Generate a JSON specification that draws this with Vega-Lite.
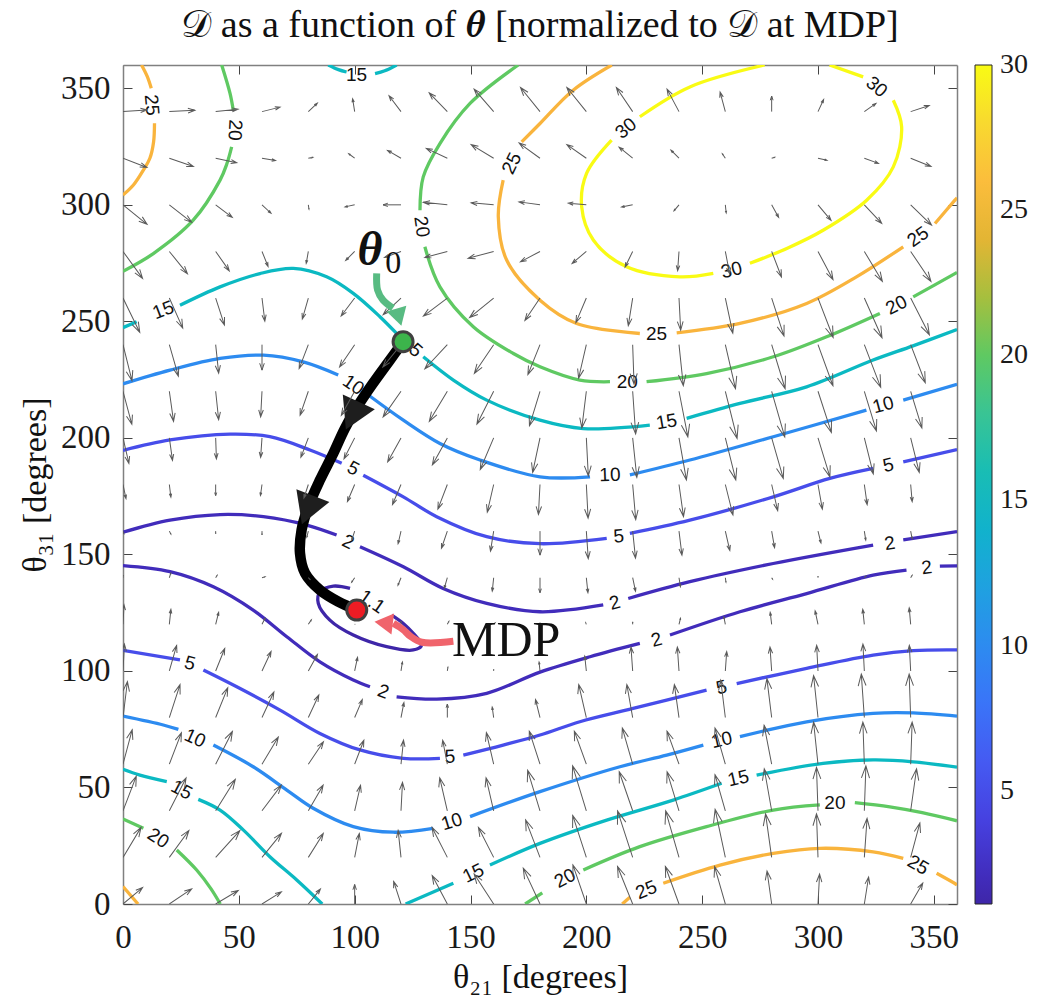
{
"$schema": "https://vega.github.io/schema/vega-lite/v6.json",
"width": 834,
"height": 839,
"autosize": {"type": "none"},
"padding": {"left": 123, "top": 65, "right": 106, "bottom": 97},
"background": "#ffffff",
"config": {"view": {"stroke": null}},
"title": {"text": "𝒟 as a function of 𝜽 [normalized to 𝒟 at MDP]", "font": "Liberation Serif", "fontSize": 38, "fontWeight": "normal", "color": "#111111", "offset": 20},
"datasets": {
"contours": [
{"l":30,"s":"30a","o":0,"x":305,"y":360},{"l":30,"s":"30a","o":1,"x":319.5,"y":354.9},
{"l":30,"s":"30b","o":0,"x":332.5,"y":344.9},{"l":30,"s":"30b","o":1,"x":336.1,"y":333.5},{"l":30,"s":"30b","o":2,"x":332.5,"y":316.3},{"l":30,"s":"30b","o":3,"x":321,"y":302},{"l":30,"s":"30b","o":4,"x":302.2,"y":289.1},{"l":30,"s":"30b","o":5,"x":287,"y":281.5},{"l":30,"s":"30b","o":6,"x":270.6,"y":274.9},
{"l":30,"s":"30c","o":0,"x":254.8,"y":270.6},{"l":30,"s":"30c","o":1,"x":240.4,"y":269.1},{"l":30,"s":"30c","o":2,"x":217.4,"y":273.4},{"l":30,"s":"30c","o":3,"x":203,"y":284.9},{"l":30,"s":"30c","o":4,"x":198,"y":299.1},{"l":30,"s":"30c","o":5,"x":200.1,"y":313.5},{"l":30,"s":"30c","o":6,"x":210.9,"y":327.8},
{"l":30,"s":"30d","o":0,"x":223.1,"y":337.8},{"l":30,"s":"30d","o":1,"x":244.7,"y":350.6},{"l":30,"s":"30d","o":2,"x":277,"y":360},
{"l":25,"s":"25a","o":0,"x":8,"y":360},{"l":25,"s":"25a","o":1,"x":10.5,"y":355},{"l":25,"s":"25a","o":2,"x":12.2,"y":350},
{"l":25,"s":"25b","o":0,"x":13.6,"y":335},{"l":25,"s":"25b","o":1,"x":13.2,"y":327},{"l":25,"s":"25b","o":2,"x":11.6,"y":320},{"l":25,"s":"25b","o":3,"x":8.8,"y":314.9},{"l":25,"s":"25b","o":4,"x":4.5,"y":308.5},{"l":25,"s":"25b","o":5,"x":0,"y":304.2},
{"l":25,"s":"25c","o":0,"x":211,"y":360},{"l":25,"s":"25c","o":1,"x":194.3,"y":349.2},{"l":25,"s":"25c","o":2,"x":180,"y":334.9},{"l":25,"s":"25c","o":3,"x":172.1,"y":327},
{"l":25,"s":"25d","o":0,"x":164.1,"y":310.6},{"l":25,"s":"25d","o":1,"x":162,"y":294.9},{"l":25,"s":"25d","o":2,"x":165.6,"y":276.3},{"l":25,"s":"25d","o":3,"x":180,"y":259.1},{"l":25,"s":"25d","o":4,"x":195.8,"y":249.1},{"l":25,"s":"25d","o":5,"x":223.1,"y":244.8},
{"l":25,"s":"25e","o":0,"x":239,"y":245.1},{"l":25,"s":"25e","o":1,"x":266.3,"y":249.1},{"l":25,"s":"25e","o":2,"x":295.1,"y":257.7},{"l":25,"s":"25e","o":3,"x":316.6,"y":269.1},{"l":25,"s":"25e","o":4,"x":336.8,"y":282},
{"l":25,"s":"25f","o":0,"x":350.5,"y":292},{"l":25,"s":"25f","o":1,"x":359.1,"y":302},{"l":25,"s":"25f","o":2,"x":360,"y":303},
{"l":25,"s":"25g","o":0,"x":215.5,"y":0},{"l":25,"s":"25g","o":1,"x":218.8,"y":2.9},
{"l":25,"s":"25h","o":0,"x":233.2,"y":8.9},{"l":25,"s":"25h","o":1,"x":257.7,"y":16.7},{"l":25,"s":"25h","o":2,"x":280.7,"y":21.7},{"l":25,"s":"25h","o":3,"x":300.8,"y":23.9},{"l":25,"s":"25h","o":4,"x":323.8,"y":22.4},{"l":25,"s":"25h","o":5,"x":336.8,"y":19.6},
{"l":25,"s":"25i","o":0,"x":351.2,"y":13.2},{"l":25,"s":"25i","o":1,"x":359.1,"y":8.8},{"l":25,"s":"25i","o":2,"x":360,"y":8.2},
{"l":25,"s":"25j","o":0,"x":0,"y":7.5},{"l":25,"s":"25j","o":1,"x":6.5,"y":0},
{"l":20,"s":"20a","o":0,"x":42.6,"y":360},{"l":20,"s":"20a","o":1,"x":46.2,"y":347.8},{"l":20,"s":"20a","o":2,"x":47.6,"y":340.6},
{"l":20,"s":"20b","o":0,"x":46.9,"y":324.9},{"l":20,"s":"20b","o":1,"x":44.8,"y":317.5},{"l":20,"s":"20b","o":2,"x":41.9,"y":310.6},{"l":20,"s":"20b","o":3,"x":30.3,"y":293.4},{"l":20,"s":"20b","o":4,"x":13.1,"y":279.1},{"l":20,"s":"20b","o":5,"x":0,"y":271.5},
{"l":20,"s":"20c","o":0,"x":170.6,"y":360},{"l":20,"s":"20c","o":1,"x":149.8,"y":343.5},{"l":20,"s":"20c","o":2,"x":136.8,"y":326.3},{"l":20,"s":"20c","o":3,"x":129.6,"y":312},{"l":20,"s":"20c","o":4,"x":128.2,"y":297.7},
{"l":20,"s":"20d","o":0,"x":130.3,"y":282},{"l":20,"s":"20d","o":1,"x":136.8,"y":264.8},{"l":20,"s":"20d","o":2,"x":151.2,"y":247.7},{"l":20,"s":"20d","o":3,"x":168.5,"y":236.2},{"l":20,"s":"20d","o":4,"x":180,"y":230.5},{"l":20,"s":"20d","o":5,"x":197.2,"y":224.8},{"l":20,"s":"20d","o":6,"x":210.2,"y":224.1},
{"l":20,"s":"20e","o":0,"x":226,"y":224.1},{"l":20,"s":"20e","o":1,"x":251.9,"y":227.6},{"l":20,"s":"20e","o":2,"x":280.7,"y":234.8},{"l":20,"s":"20e","o":3,"x":304,"y":243.5},{"l":20,"s":"20e","o":4,"x":326.7,"y":253.4},
{"l":20,"s":"20f","o":0,"x":341.1,"y":260.5},{"l":20,"s":"20f","o":1,"x":359.1,"y":270.5},{"l":20,"s":"20f","o":2,"x":360,"y":271},
{"l":20,"s":"20g","o":0,"x":173.6,"y":0},{"l":20,"s":"20g","o":1,"x":181,"y":4.8},
{"l":20,"s":"20h","o":0,"x":198.7,"y":14.6},{"l":20,"s":"20h","o":1,"x":223.1,"y":24.6},{"l":20,"s":"20h","o":2,"x":251.9,"y":33.2},{"l":20,"s":"20h","o":3,"x":280.7,"y":40.3},{"l":20,"s":"20h","o":4,"x":300.8,"y":42.5},
{"l":20,"s":"20i","o":0,"x":315.9,"y":43.5},{"l":20,"s":"20i","o":1,"x":331,"y":41.7},{"l":20,"s":"20i","o":2,"x":345,"y":39.2},{"l":20,"s":"20i","o":3,"x":360,"y":35.7},
{"l":20,"s":"20j","o":0,"x":0,"y":36.5},{"l":20,"s":"20j","o":1,"x":8.8,"y":32.5},
{"l":20,"s":"20k","o":0,"x":23.2,"y":23.2},{"l":20,"s":"20k","o":1,"x":31.8,"y":14.6},{"l":20,"s":"20k","o":2,"x":38,"y":6.5},{"l":20,"s":"20k","o":3,"x":42,"y":0},
{"l":15,"s":"15a","o":0,"x":88.6,"y":360},{"l":15,"s":"15a","o":1,"x":93,"y":358},{"l":15,"s":"15a","o":2,"x":96.5,"y":357},
{"l":15,"s":"15b","o":0,"x":108.8,"y":356.3},{"l":15,"s":"15b","o":1,"x":113,"y":357.5},{"l":15,"s":"15b","o":2,"x":118.1,"y":360},
{"l":15,"s":"15c","o":0,"x":0,"y":247.3},{"l":15,"s":"15c","o":1,"x":5.9,"y":249.8},
{"l":15,"s":"15d","o":0,"x":24.6,"y":256.9},{"l":15,"s":"15d","o":1,"x":41.9,"y":264.8},{"l":15,"s":"15d","o":2,"x":59.1,"y":270.5},{"l":15,"s":"15d","o":3,"x":73.5,"y":272.7},{"l":15,"s":"15d","o":4,"x":87.9,"y":269.1},{"l":15,"s":"15d","o":5,"x":99.4,"y":262},{"l":15,"s":"15d","o":6,"x":110.9,"y":252},{"l":15,"s":"15d","o":7,"x":118.1,"y":244.8},
{"l":15,"s":"15e","o":0,"x":129.6,"y":234.8},{"l":15,"s":"15e","o":1,"x":142.6,"y":224.8},{"l":15,"s":"15e","o":2,"x":157,"y":216.2},{"l":15,"s":"15e","o":3,"x":180,"y":207.6},{"l":15,"s":"15e","o":4,"x":198.7,"y":204},{"l":15,"s":"15e","o":5,"x":227.4,"y":205.5},
{"l":15,"s":"15f","o":0,"x":243.3,"y":208.4},{"l":15,"s":"15f","o":1,"x":266.3,"y":214.8},{"l":15,"s":"15f","o":2,"x":295.1,"y":221.9},{"l":15,"s":"15f","o":3,"x":323.8,"y":233.4},{"l":15,"s":"15f","o":4,"x":341,"y":239.5},{"l":15,"s":"15f","o":5,"x":360,"y":246.5},
{"l":15,"s":"15g","o":0,"x":0,"y":57.8},{"l":15,"s":"15g","o":1,"x":7.3,"y":55.3},{"l":15,"s":"15g","o":2,"x":18.9,"y":52.5},
{"l":15,"s":"15h","o":0,"x":32.5,"y":44.9},{"l":15,"s":"15h","o":1,"x":41.9,"y":40.3},{"l":15,"s":"15h","o":2,"x":52,"y":31.7},{"l":15,"s":"15h","o":3,"x":63.4,"y":20.3},{"l":15,"s":"15h","o":4,"x":75,"y":10.3},{"l":15,"s":"15h","o":5,"x":86,"y":0},
{"l":15,"s":"15i","o":0,"x":122,"y":0},{"l":15,"s":"15i","o":1,"x":142.6,"y":8.9},
{"l":15,"s":"15j","o":0,"x":158.4,"y":16.7},{"l":15,"s":"15j","o":1,"x":180,"y":26},{"l":15,"s":"15j","o":2,"x":208.8,"y":36},{"l":15,"s":"15j","o":3,"x":237.5,"y":44.6},{"l":15,"s":"15j","o":4,"x":258.4,"y":51.8},
{"l":15,"s":"15k","o":0,"x":273.5,"y":55.3},{"l":15,"s":"15k","o":1,"x":302.2,"y":60.3},{"l":15,"s":"15k","o":2,"x":323.8,"y":61.8},{"l":15,"s":"15k","o":3,"x":341.1,"y":61},{"l":15,"s":"15k","o":4,"x":360,"y":58.7},
{"l":10,"s":"10a","o":0,"x":0,"y":223.2},{"l":10,"s":"10a","o":1,"x":20.3,"y":229.1},{"l":10,"s":"10a","o":2,"x":41.9,"y":234.1},{"l":10,"s":"10a","o":3,"x":60.6,"y":235.5},{"l":10,"s":"10a","o":4,"x":77.8,"y":232.6},{"l":10,"s":"10a","o":5,"x":92.9,"y":227},
{"l":10,"s":"10b","o":0,"x":105.9,"y":218.4},{"l":10,"s":"10b","o":1,"x":121,"y":207.6},{"l":10,"s":"10b","o":2,"x":136.8,"y":197.6},{"l":10,"s":"10b","o":3,"x":154.1,"y":190.5},{"l":10,"s":"10b","o":4,"x":180,"y":183.3},{"l":10,"s":"10b","o":5,"x":201.6,"y":183.3},
{"l":10,"s":"10c","o":0,"x":218.8,"y":184.1},{"l":10,"s":"10c","o":1,"x":244.7,"y":190.5},{"l":10,"s":"10c","o":2,"x":280.7,"y":200.5},{"l":10,"s":"10c","o":3,"x":320.9,"y":211.9},
{"l":10,"s":"10d","o":0,"x":336.8,"y":216.2},{"l":10,"s":"10d","o":1,"x":360,"y":223},
{"l":10,"s":"10e","o":0,"x":0,"y":80.6},{"l":10,"s":"10e","o":1,"x":17.4,"y":76.8},{"l":10,"s":"10e","o":2,"x":23.9,"y":74.9},
{"l":10,"s":"10f","o":0,"x":39,"y":68.2},{"l":10,"s":"10f","o":1,"x":56.2,"y":58.9},{"l":10,"s":"10f","o":2,"x":70.7,"y":48.9},{"l":10,"s":"10f","o":3,"x":82.1,"y":41.1},{"l":10,"s":"10f","o":4,"x":99.4,"y":33.2},{"l":10,"s":"10f","o":5,"x":116.7,"y":30.8},{"l":10,"s":"10f","o":6,"x":133.9,"y":32.5},
{"l":10,"s":"10g","o":0,"x":149.8,"y":37.5},{"l":10,"s":"10g","o":1,"x":180,"y":48.2},{"l":10,"s":"10g","o":2,"x":214.5,"y":58.9},{"l":10,"s":"10g","o":3,"x":234.7,"y":63.9},{"l":10,"s":"10g","o":4,"x":250.5,"y":68.2},
{"l":10,"s":"10h","o":0,"x":266.3,"y":71.8},{"l":10,"s":"10h","o":1,"x":295.1,"y":78.2},{"l":10,"s":"10h","o":2,"x":323.8,"y":81.8},{"l":10,"s":"10h","o":3,"x":341.1,"y":82},{"l":10,"s":"10h","o":4,"x":360,"y":80.6},
{"l":5,"s":"5a","o":0,"x":0,"y":194.6},{"l":5,"s":"5a","o":1,"x":20.3,"y":199.1},{"l":5,"s":"5a","o":2,"x":46.2,"y":201.6},{"l":5,"s":"5a","o":3,"x":63.4,"y":200.5},{"l":5,"s":"5a","o":4,"x":80.7,"y":194.8},{"l":5,"s":"5a","o":5,"x":94.4,"y":189.1},
{"l":5,"s":"5b","o":0,"x":103.7,"y":184},{"l":5,"s":"5b","o":1,"x":121,"y":174.7},{"l":5,"s":"5b","o":2,"x":135.4,"y":166.2},{"l":5,"s":"5b","o":3,"x":157,"y":157.6},{"l":5,"s":"5b","o":4,"x":180,"y":154.6},{"l":5,"s":"5b","o":5,"x":208.8,"y":156.9},
{"l":5,"s":"5c","o":0,"x":218.8,"y":159},{"l":5,"s":"5c","o":1,"x":244.7,"y":164.7},{"l":5,"s":"5c","o":2,"x":280.7,"y":174.7},{"l":5,"s":"5c","o":3,"x":305.1,"y":182.6},{"l":5,"s":"5c","o":4,"x":323.8,"y":186.9},
{"l":5,"s":"5d","o":0,"x":336.8,"y":189.7},{"l":5,"s":"5d","o":1,"x":360,"y":195},
{"l":5,"s":"5e","o":0,"x":0,"y":108.8},{"l":5,"s":"5e","o":1,"x":24.6,"y":104.7},
{"l":5,"s":"5f","o":0,"x":34.7,"y":100.4},{"l":5,"s":"5f","o":1,"x":49.1,"y":93.2},{"l":5,"s":"5f","o":2,"x":67.8,"y":83.2},{"l":5,"s":"5f","o":3,"x":85,"y":73.2},{"l":5,"s":"5f","o":4,"x":102.3,"y":66.1},{"l":5,"s":"5f","o":5,"x":121,"y":62.5},{"l":5,"s":"5f","o":6,"x":136.8,"y":62.5},
{"l":5,"s":"5g","o":0,"x":146.9,"y":63.9},{"l":5,"s":"5g","o":1,"x":164.1,"y":68.2},{"l":5,"s":"5g","o":2,"x":180,"y":72.5},{"l":5,"s":"5g","o":3,"x":197.2,"y":78.2},{"l":5,"s":"5g","o":4,"x":220.2,"y":83.9},{"l":5,"s":"5g","o":5,"x":251.9,"y":91.8},
{"l":5,"s":"5h","o":0,"x":264.9,"y":94.6},{"l":5,"s":"5h","o":1,"x":295.1,"y":101.1},{"l":5,"s":"5h","o":2,"x":323.8,"y":106.8},{"l":5,"s":"5h","o":3,"x":341.1,"y":108.7},{"l":5,"s":"5h","o":4,"x":360,"y":109},
{"l":2,"s":"2a","o":0,"x":0,"y":159.5},{"l":2,"s":"2a","o":1,"x":20.3,"y":164.7},{"l":2,"s":"2a","o":2,"x":41.9,"y":167.1},{"l":2,"s":"2a","o":3,"x":60.6,"y":166.2},{"l":2,"s":"2a","o":4,"x":79.3,"y":162.6},{"l":2,"s":"2a","o":5,"x":92.2,"y":158.3},
{"l":2,"s":"2b","o":0,"x":102.3,"y":153.3},{"l":2,"s":"2b","o":1,"x":121,"y":144.7},{"l":2,"s":"2b","o":2,"x":138.2,"y":135.4},{"l":2,"s":"2b","o":3,"x":157,"y":129},{"l":2,"s":"2b","o":4,"x":180,"y":125.4},{"l":2,"s":"2b","o":5,"x":207.3,"y":128.3},
{"l":2,"s":"2c","o":0,"x":218.1,"y":131.1},{"l":2,"s":"2c","o":1,"x":244.7,"y":138.3},{"l":2,"s":"2c","o":2,"x":280.7,"y":146.1},{"l":2,"s":"2c","o":3,"x":323.8,"y":154},
{"l":2,"s":"2d","o":0,"x":336.8,"y":156.2},{"l":2,"s":"2d","o":1,"x":360,"y":159.8},
{"l":2,"s":"2e","o":0,"x":0,"y":145.2},{"l":2,"s":"2e","o":1,"x":20.3,"y":142.6},{"l":2,"s":"2e","o":2,"x":39,"y":136.1},{"l":2,"s":"2e","o":3,"x":56.2,"y":126.1},{"l":2,"s":"2e","o":4,"x":70.7,"y":114.7},{"l":2,"s":"2e","o":5,"x":85,"y":103.9},{"l":2,"s":"2e","o":6,"x":99.4,"y":96.1},{"l":2,"s":"2e","o":7,"x":106.6,"y":93.2},
{"l":2,"s":"2f","o":0,"x":118.1,"y":88.9},{"l":2,"s":"2f","o":1,"x":135.4,"y":87.9},{"l":2,"s":"2f","o":2,"x":157,"y":90.4},{"l":2,"s":"2f","o":3,"x":180,"y":99.5},{"l":2,"s":"2f","o":4,"x":201.6,"y":106.1},{"l":2,"s":"2f","o":5,"x":223.1,"y":111.8},
{"l":2,"s":"2g","o":0,"x":236.1,"y":115.4},{"l":2,"s":"2g","o":1,"x":266.3,"y":125.4},{"l":2,"s":"2g","o":2,"x":295.1,"y":133.2},{"l":2,"s":"2g","o":3,"x":323.8,"y":141.1},{"l":2,"s":"2g","o":4,"x":338.2,"y":143.3},
{"l":2,"s":"2h","o":0,"x":352.6,"y":145},{"l":2,"s":"2h","o":1,"x":360,"y":145.1},
{"l":1.1,"s":"1a","o":0,"x":98,"y":135.4},{"l":1.1,"s":"1a","o":1,"x":90.8,"y":136.4},{"l":1.1,"s":"1a","o":2,"x":85,"y":134},{"l":1.1,"s":"1a","o":3,"x":84.3,"y":129},{"l":1.1,"s":"1a","o":4,"x":89.3,"y":121.8},{"l":1.1,"s":"1a","o":5,"x":99.4,"y":115.4},{"l":1.1,"s":"1a","o":6,"x":113.8,"y":110.4},{"l":1.1,"s":"1a","o":7,"x":125.3,"y":109},{"l":1.1,"s":"1a","o":8,"x":128.9,"y":111.1},{"l":1.1,"s":"1a","o":9,"x":125.3,"y":116.1},{"l":1.1,"s":"1a","o":10,"x":121,"y":120.4},{"l":1.1,"s":"1a","o":11,"x":116,"y":124}
],
"labels": [
{"x":325.3,"y":350.6,"t":"30","a":40},{"x":262.7,"y":272,"t":"30","a":-14},{"x":217.1,"y":332.8,"t":"30","a":-40},
{"x":12.4,"y":342.8,"t":"25","a":85},{"x":167.8,"y":317.8,"t":"25","a":-64},{"x":230.3,"y":244.5,"t":"25","a":0},{"x":343.2,"y":286.3,"t":"25","a":-35},{"x":225.9,"y":6,"t":"25","a":-22},{"x":343.2,"y":16.7,"t":"25","a":30},
{"x":48.3,"y":332.1,"t":"20","a":93},{"x":128.9,"y":290.6,"t":"20","a":82},{"x":217.7,"y":224.1,"t":"20","a":0},{"x":333.9,"y":257,"t":"20","a":-27},{"x":190.8,"y":11,"t":"20","a":-28},{"x":307.3,"y":43.2,"t":"20","a":0},{"x":15.2,"y":28.2,"t":"20","a":33},
{"x":100.8,"y":355.6,"t":"15","a":0},{"x":17.4,"y":254.8,"t":"15","a":-21},{"x":124.6,"y":239.1,"t":"15","a":42},{"x":234.6,"y":206.9,"t":"15","a":-10},{"x":25.3,"y":48.9,"t":"15","a":28},{"x":151.2,"y":13.2,"t":"15","a":-26},{"x":265.6,"y":53.9,"t":"15","a":-13},
{"x":99.4,"y":222.7,"t":"10","a":34},{"x":210.2,"y":184.1,"t":"10","a":-2},{"x":328.1,"y":214.1,"t":"10","a":-15},{"x":31.1,"y":71.1,"t":"10","a":24},{"x":141.9,"y":35.3,"t":"10","a":-17},{"x":258.4,"y":70.4,"t":"10","a":-13},
{"x":99.4,"y":186.9,"t":"5","a":28},{"x":214,"y":157.8,"t":"5","a":-5},{"x":330.3,"y":188.3,"t":"5","a":-13},{"x":28.9,"y":103.3,"t":"5","a":15},{"x":141.1,"y":63.2,"t":"5","a":-3},{"x":258.4,"y":92.9,"t":"5","a":-13},
{"x":97.2,"y":155.4,"t":"2","a":26},{"x":212.3,"y":129.2,"t":"2","a":-15},{"x":331,"y":154.7,"t":"2","a":-9},{"x":112.3,"y":91.1,"t":"2","a":20},{"x":230.3,"y":113.3,"t":"2","a":-15},{"x":346.9,"y":144.3,"t":"2","a":-7},
{"x":107.5,"y":129.7,"t":"1.1","a":35}
],
"quiver": [
{"x":0,"y":340,"a":-4,"m":26.7},{"x":20,"y":340,"a":-3,"m":28.4},{"x":40,"y":340,"a":-6,"m":25.1},{"x":60,"y":340,"a":-14,"m":20.6},{"x":80,"y":340,"a":-43,"m":13.7},{"x":100,"y":340,"a":-99,"m":14.5},{"x":120,"y":340,"a":-127,"m":22.1},{"x":140,"y":340,"a":-134,"m":29},{"x":160,"y":340,"a":-131,"m":33.1},{"x":180,"y":340,"a":-129,"m":34.4},{"x":200,"y":340,"a":-129,"m":34.4},{"x":220,"y":340,"a":-124,"m":32.4},{"x":240,"y":340,"a":-118,"m":28.3},{"x":260,"y":340,"a":-105,"m":22.5},{"x":280,"y":340,"a":-90,"m":17.3},{"x":300,"y":340,"a":-65,"m":14.8},{"x":320,"y":340,"a":-35,"m":15.8},{"x":340,"y":340,"a":-18,"m":21.7},
{"x":0,"y":320,"a":21,"m":28.5},{"x":20,"y":320,"a":19,"m":28.3},{"x":40,"y":320,"a":12,"m":23.9},{"x":60,"y":320,"a":10,"m":15.2},{"x":80,"y":320,"a":-11,"m":5.1},{"x":100,"y":320,"a":-143,"m":8.3},{"x":120,"y":320,"a":-150,"m":17.3},{"x":140,"y":320,"a":-155,"m":25.8},{"x":160,"y":320,"a":-149,"m":29.2},{"x":180,"y":320,"a":-144,"m":28.7},{"x":200,"y":320,"a":-145,"m":26.4},{"x":220,"y":320,"a":-141,"m":19.4},{"x":240,"y":320,"a":-135,"m":12.7},{"x":260,"y":320,"a":-124,"m":6},{"x":280,"y":320,"a":-17,"m":3.5},{"x":300,"y":320,"a":13,"m":10.3},{"x":320,"y":320,"a":20,"m":16.7},{"x":340,"y":320,"a":22,"m":24.4},
{"x":0,"y":300,"a":39,"m":34.4},{"x":20,"y":300,"a":38,"m":31.6},{"x":40,"y":300,"a":37,"m":23.1},{"x":60,"y":300,"a":43,"m":13.7},{"x":80,"y":300,"a":82,"m":5},{"x":100,"y":300,"a":168,"m":10.9},{"x":120,"y":300,"a":180,"m":20},{"x":140,"y":300,"a":-174,"m":26.8},{"x":160,"y":300,"a":-175,"m":25.1},{"x":180,"y":300,"a":-172,"m":23.6},{"x":200,"y":300,"a":-175,"m":20.1},{"x":220,"y":300,"a":169,"m":12.6},{"x":240,"y":300,"a":130,"m":8.7},{"x":260,"y":300,"a":84,"m":9.1},{"x":280,"y":300,"a":61,"m":16},{"x":300,"y":300,"a":50,"m":22.5},{"x":320,"y":300,"a":47,"m":28.3},{"x":340,"y":300,"a":44,"m":32.3},
{"x":0,"y":280,"a":54,"m":37},{"x":20,"y":280,"a":51,"m":32},{"x":40,"y":280,"a":55,"m":26.4},{"x":60,"y":280,"a":68,"m":18},{"x":80,"y":280,"a":100,"m":13.5},{"x":100,"y":280,"a":135,"m":14.1},{"x":120,"y":280,"a":160,"m":19.5},{"x":140,"y":280,"a":165,"m":25.9},{"x":160,"y":280,"a":165,"m":29.4},{"x":180,"y":280,"a":152,"m":24.6},{"x":200,"y":280,"a":140,"m":20.6},{"x":220,"y":280,"a":116,"m":19.2},{"x":240,"y":280,"a":94,"m":21.4},{"x":260,"y":280,"a":79,"m":25.5},{"x":280,"y":280,"a":69,"m":30.4},{"x":300,"y":280,"a":62,"m":35.5},{"x":320,"y":280,"a":59,"m":38.9},{"x":340,"y":280,"a":56,"m":40.3},
{"x":0,"y":260,"a":64,"m":42.5},{"x":20,"y":260,"a":66,"m":36.6},{"x":40,"y":260,"a":72,"m":31.6},{"x":60,"y":260,"a":83,"m":25.9},{"x":80,"y":260,"a":106,"m":24.3},{"x":100,"y":260,"a":127,"m":25},{"x":120,"y":260,"a":137,"m":27.1},{"x":140,"y":260,"a":143,"m":33.3},{"x":160,"y":260,"a":141,"m":34.4},{"x":180,"y":260,"a":124,"m":30},{"x":200,"y":260,"a":113,"m":29.7},{"x":220,"y":260,"a":99,"m":31.1},{"x":240,"y":260,"a":87,"m":35.7},{"x":260,"y":260,"a":78,"m":39.9},{"x":280,"y":260,"a":72,"m":44.4},{"x":300,"y":260,"a":69,"m":47},{"x":320,"y":260,"a":66,"m":48.3},{"x":340,"y":260,"a":63,"m":45.8},
{"x":0,"y":240,"a":76,"m":41.2},{"x":20,"y":240,"a":74,"m":36.4},{"x":40,"y":240,"a":84,"m":31.8},{"x":60,"y":240,"a":90,"m":28.3},{"x":80,"y":240,"a":111,"m":28.5},{"x":100,"y":240,"a":124,"m":30},{"x":120,"y":240,"a":129,"m":32},{"x":140,"y":240,"a":133,"m":36.6},{"x":160,"y":240,"a":124,"m":38.4},{"x":180,"y":240,"a":112,"m":35.9},{"x":200,"y":240,"a":103,"m":38.3},{"x":220,"y":240,"a":88,"m":44},{"x":240,"y":240,"a":84,"m":45.9},{"x":260,"y":240,"a":77,"m":50.2},{"x":280,"y":240,"a":73,"m":51.2},{"x":300,"y":240,"a":70,"m":48.6},{"x":320,"y":240,"a":69,"m":50.8},{"x":340,"y":240,"a":69,"m":45.3},
{"x":0,"y":220,"a":75,"m":38},{"x":20,"y":220,"a":82,"m":33.7},{"x":40,"y":220,"a":84,"m":31.8},{"x":60,"y":220,"a":93,"m":28.4},{"x":80,"y":220,"a":109,"m":28.1},{"x":100,"y":220,"a":119,"m":30.6},{"x":120,"y":220,"a":125,"m":34.7},{"x":140,"y":220,"a":121,"m":38.9},{"x":160,"y":220,"a":117,"m":41},{"x":180,"y":220,"a":107,"m":40.1},{"x":200,"y":220,"a":97,"m":41},{"x":220,"y":220,"a":86,"m":47.5},{"x":240,"y":220,"a":79,"m":51.6},{"x":260,"y":220,"a":76,"m":54},{"x":280,"y":220,"a":74,"m":52.8},{"x":300,"y":220,"a":72,"m":48.1},{"x":320,"y":220,"a":73,"m":46},{"x":340,"y":220,"a":73,"m":42.6},
{"x":0,"y":200,"a":77,"m":29.1},{"x":20,"y":200,"a":82,"m":25.2},{"x":40,"y":200,"a":88,"m":23.4},{"x":60,"y":200,"a":94,"m":21.7},{"x":80,"y":200,"a":111,"m":23.2},{"x":100,"y":200,"a":117,"m":26.1},{"x":120,"y":200,"a":119,"m":30.6},{"x":140,"y":200,"a":119,"m":34.3},{"x":160,"y":200,"a":113,"m":38.1},{"x":180,"y":200,"a":102,"m":39.2},{"x":200,"y":200,"a":87,"m":42.4},{"x":220,"y":200,"a":84,"m":44.3},{"x":240,"y":200,"a":80,"m":47.4},{"x":260,"y":200,"a":76,"m":48.1},{"x":280,"y":200,"a":74,"m":46.9},{"x":300,"y":200,"a":73,"m":45.3},{"x":320,"y":200,"a":76,"m":41.2},{"x":340,"y":200,"a":76,"m":39.5},
{"x":0,"y":180,"a":78,"m":16},{"x":20,"y":180,"a":83,"m":14.1},{"x":40,"y":180,"a":90,"m":12.3},{"x":60,"y":180,"a":98,"m":12.4},{"x":80,"y":180,"a":108,"m":15.8},{"x":100,"y":180,"a":113,"m":20.6},{"x":120,"y":180,"a":113,"m":24.2},{"x":140,"y":180,"a":111,"m":29.3},{"x":160,"y":180,"a":103,"m":31.5},{"x":180,"y":180,"a":93,"m":33.4},{"x":200,"y":180,"a":87,"m":37.4},{"x":220,"y":180,"a":85,"m":39.1},{"x":240,"y":180,"a":82,"m":36},{"x":260,"y":180,"a":76,"m":35},{"x":280,"y":180,"a":77,"m":29.8},{"x":300,"y":180,"a":80,"m":27.8},{"x":320,"y":180,"a":82,"m":22.6},{"x":340,"y":180,"a":85,"m":19.1},
{"x":0,"y":160,"a":69,"m":2.8},{"x":20,"y":160,"a":63,"m":3.7},{"x":40,"y":160,"a":90,"m":2.7},{"x":60,"y":160,"a":90,"m":4},{"x":80,"y":160,"a":104,"m":6.9},{"x":100,"y":160,"a":108,"m":10.5},{"x":120,"y":160,"a":103,"m":14.4},{"x":140,"y":160,"a":109,"m":20.1},{"x":160,"y":160,"a":99,"m":22.6},{"x":180,"y":160,"a":90,"m":26.7},{"x":200,"y":160,"a":86,"m":30.8},{"x":220,"y":160,"a":84,"m":30.2},{"x":240,"y":160,"a":83,"m":26.9},{"x":260,"y":160,"a":77,"m":22.2},{"x":280,"y":160,"a":80,"m":18.6},{"x":300,"y":160,"a":76,"m":13.7},{"x":320,"y":160,"a":81,"m":10.1},{"x":340,"y":160,"a":79,"m":8.5},
{"x":0,"y":140,"a":-90,"m":2.7},{"x":20,"y":140,"a":-72,"m":5.3},{"x":40,"y":140,"a":-58,"m":3.1},{"x":60,"y":140,"a":-17,"m":3.5},{"x":80,"y":140,"a":45,"m":2.4},{"x":100,"y":140,"a":124,"m":6},{"x":120,"y":140,"a":112,"m":9},{"x":140,"y":140,"a":106,"m":12.1},{"x":160,"y":140,"a":96,"m":15.1},{"x":180,"y":140,"a":90,"m":16.7},{"x":200,"y":140,"a":84,"m":16.8},{"x":220,"y":140,"a":78,"m":15.4},{"x":240,"y":140,"a":81,"m":10.1},{"x":260,"y":140,"a":82,"m":5},{"x":280,"y":140,"a":59,"m":1.9},{"x":300,"y":140,"a":-90,"m":1.7},{"x":320,"y":140,"a":-45,"m":2.4},{"x":340,"y":140,"a":-58,"m":3.1},
{"x":0,"y":120,"a":-87,"m":21.7},{"x":20,"y":120,"a":-84,"m":16.7},{"x":40,"y":120,"a":-76,"m":13.7},{"x":60,"y":120,"a":-63,"m":7.5},{"x":80,"y":120,"a":-56,"m":6},{"x":100,"y":120,"a":0,"m":0.5},{"x":120,"y":120,"a":-90,"m":3.3},{"x":140,"y":120,"a":-63,"m":3.7},{"x":160,"y":120,"a":-45,"m":2.4},{"x":180,"y":120,"a":-90,"m":1.7},{"x":200,"y":120,"a":-112,"m":1.8},{"x":220,"y":120,"a":-90,"m":2.7},{"x":240,"y":120,"a":-76,"m":6.9},{"x":260,"y":120,"a":-101,"m":8.5},{"x":280,"y":120,"a":-97,"m":13.4},{"x":300,"y":120,"a":-102,"m":15.4},{"x":320,"y":120,"a":-96,"m":16.7},{"x":340,"y":120,"a":-95,"m":18.4},
{"x":0,"y":100,"a":-87,"m":30},{"x":20,"y":100,"a":-74,"m":29.5},{"x":40,"y":100,"a":-68,"m":26.9},{"x":60,"y":100,"a":-65,"m":23.9},{"x":80,"y":100,"a":-61,"m":20.9},{"x":100,"y":100,"a":-78,"m":15.4},{"x":120,"y":100,"a":-81,"m":10.1},{"x":140,"y":100,"a":-81,"m":4.1},{"x":160,"y":100,"a":-90,"m":1.7},{"x":180,"y":100,"a":-96,"m":10},{"x":200,"y":100,"a":-96,"m":16.7},{"x":220,"y":100,"a":-94,"m":26.7},{"x":240,"y":100,"a":-94,"m":26.7},{"x":260,"y":100,"a":-86,"m":21.7},{"x":280,"y":100,"a":-94,"m":26.7},{"x":300,"y":100,"a":-93,"m":28.4},{"x":320,"y":100,"a":-93,"m":30},{"x":340,"y":100,"a":-93,"m":28.4},
{"x":0,"y":80,"a":-83,"m":40.3},{"x":20,"y":80,"a":-72,"m":38.5},{"x":40,"y":80,"a":-68,"m":35.9},{"x":60,"y":80,"a":-65,"m":31.3},{"x":80,"y":80,"a":-65,"m":27.6},{"x":100,"y":80,"a":-67,"m":21.7},{"x":120,"y":80,"a":-79,"m":17},{"x":140,"y":80,"a":-90,"m":15},{"x":160,"y":80,"a":-98,"m":11.8},{"x":180,"y":80,"a":-104,"m":20.6},{"x":200,"y":80,"a":-103,"m":37.6},{"x":220,"y":80,"a":-100,"m":37.3},{"x":240,"y":80,"a":-98,"m":37},{"x":260,"y":80,"a":-97,"m":42},{"x":280,"y":80,"a":-97,"m":43.6},{"x":300,"y":80,"a":-96,"m":46.9},{"x":320,"y":80,"a":-94,"m":48.4},{"x":340,"y":80,"a":-92,"m":48.4},
{"x":0,"y":60,"a":-75,"m":39.6},{"x":20,"y":60,"a":-69,"m":37.5},{"x":40,"y":60,"a":-63,"m":41},{"x":60,"y":60,"a":-59,"m":35.2},{"x":80,"y":60,"a":-56,"m":30},{"x":100,"y":60,"a":-69,"m":28.5},{"x":120,"y":60,"a":-84,"m":26.8},{"x":140,"y":60,"a":-101,"m":27.1},{"x":160,"y":60,"a":-103,"m":36},{"x":180,"y":60,"a":-108,"m":38.5},{"x":200,"y":60,"a":-110,"m":39},{"x":220,"y":60,"a":-106,"m":41.7},{"x":240,"y":60,"a":-110,"m":39},{"x":260,"y":60,"a":-106,"m":41.7},{"x":280,"y":60,"a":-101,"m":44.1},{"x":300,"y":60,"a":-96,"m":46.9},{"x":320,"y":60,"a":-92,"m":46.7},{"x":340,"y":60,"a":-88,"m":46.7},
{"x":0,"y":40,"a":-69,"m":41.2},{"x":20,"y":40,"a":-63,"m":41},{"x":40,"y":40,"a":-58,"m":41.2},{"x":60,"y":40,"a":-53,"m":35.7},{"x":80,"y":40,"a":-60,"m":32.9},{"x":100,"y":40,"a":-77,"m":29.1},{"x":120,"y":40,"a":-87,"m":31.7},{"x":140,"y":40,"a":-103,"m":37.6},{"x":160,"y":40,"a":-103,"m":37.6},{"x":180,"y":40,"a":-107,"m":47},{"x":200,"y":40,"a":-107,"m":52.2},{"x":220,"y":40,"a":-109,"m":45.9},{"x":240,"y":40,"a":-107,"m":45.3},{"x":260,"y":40,"a":-106,"m":41.7},{"x":280,"y":40,"a":-100,"m":47.4},{"x":300,"y":40,"a":-92,"m":48.4},{"x":320,"y":40,"a":-88,"m":50},{"x":340,"y":40,"a":-82,"m":47.1},
{"x":0,"y":20,"a":-59,"m":38.9},{"x":20,"y":20,"a":-54,"m":37},{"x":40,"y":20,"a":-48,"m":40.1},{"x":60,"y":20,"a":-51,"m":34.4},{"x":80,"y":20,"a":-58,"m":31.4},{"x":100,"y":20,"a":-79,"m":27.1},{"x":120,"y":20,"a":-96,"m":30.2},{"x":140,"y":20,"a":-117,"m":37.3},{"x":160,"y":20,"a":-117,"m":37.3},{"x":180,"y":20,"a":-111,"m":44.6},{"x":200,"y":20,"a":-108,"m":49},{"x":220,"y":20,"a":-108,"m":54.3},{"x":240,"y":20,"a":-106,"m":53.8},{"x":260,"y":20,"a":-102,"m":54.6},{"x":280,"y":20,"a":-98,"m":48.8},{"x":300,"y":20,"a":-92,"m":48.4},{"x":320,"y":20,"a":-86,"m":43.5},{"x":340,"y":20,"a":-75,"m":39.6},
{"x":0,"y":0,"a":-40,"m":28.4},{"x":20,"y":0,"a":-34,"m":30},{"x":40,"y":0,"a":-31,"m":29.2},{"x":60,"y":0,"a":-32,"m":25.4},{"x":80,"y":0,"a":-51,"m":21.3},{"x":100,"y":0,"a":-90,"m":21.7},{"x":120,"y":0,"a":-108,"m":26.4},{"x":140,"y":0,"a":-118,"m":35.8},{"x":160,"y":0,"a":-123,"m":39.8},{"x":180,"y":0,"a":-115,"m":44},{"x":200,"y":0,"a":-109,"m":45.9},{"x":220,"y":0,"a":-112,"m":44.9},{"x":240,"y":0,"a":-110,"m":44.3},{"x":260,"y":0,"a":-106,"m":43.3},{"x":280,"y":0,"a":-98,"m":37},{"x":300,"y":0,"a":-87,"m":33.4},{"x":320,"y":0,"a":-81,"m":30.4},{"x":340,"y":0,"a":-60,"m":26.9}
],
"path": [
{"o":0,"x":121,"y":241.3},{"o":1,"x":115.2,"y":233.4},{"o":2,"x":107.4,"y":222.7},{"o":3,"x":101.6,"y":214.1},{"o":4,"x":95.8,"y":204.1},{"o":5,"x":90.8,"y":193.4},{"o":6,"x":85,"y":181.9},{"o":7,"x":80,"y":170.5},{"o":8,"x":77.1,"y":160.5},{"o":9,"x":76.4,"y":150.5},{"o":10,"x":78.6,"y":141.9},{"o":11,"x":85,"y":134.7},{"o":12,"x":92.9,"y":129.7},{"o":13,"x":100.9,"y":126.1}
],
"pathHeads": [{"x":99,"y":209.5,"a":25},{"x":79.6,"y":169.1,"a":21}],
"garrow": [{"o":0,"x":109.5,"y":270.6},{"o":1,"x":109.9,"y":263.4},{"o":2,"x":112.2,"y":259.2},{"o":3,"x":116.5,"y":255.7}],
"ghead": [{"x":119.1,"y":251.8,"a":-16}],
"rarrow": [{"o":0,"x":142.6,"y":112.7},{"o":1,"x":129,"y":112.3},{"o":2,"x":124,"y":114.9},{"o":3,"x":121,"y":117.7},{"o":4,"x":116.7,"y":120.5}],
"rhead": [{"x":112.5,"y":120.6,"a":7}],
"dots": [{"k":"start","x":120.9,"y":241.3},{"k":"MDP","x":100.9,"y":126.1}],
"mdp": [{"x":142,"y":106.3,"t":"MDP"}],
"theta": [{"x":106.6,"y":274.2,"t":"θ"}],
"sub0": [{"x":116.7,"y":270.6,"t":"0"}]
},
"resolve": {"axis": {"x": "independent", "y": "independent"}},
"layer": [
{
"data": {"name": "contours"},
"mark": {"type": "line", "strokeWidth": 3.3, "strokeCap": "butt", "interpolate": "catmull-rom", "clip": true},
"encoding": {
"x": {"field": "x", "type": "quantitative", "scale": {"domain": [0, 360], "nice": false, "zero": false},
"axis": {"orient": "bottom", "values": [0,50,100,150,200,250,300,350], "title": "θ₂₁ [degrees]", "titleFont": "Liberation Serif", "titleFontSize": 34, "titleFontWeight": "normal", "titleColor": "#111111", "titlePadding": 6, "labelFont": "Liberation Serif", "labelFontSize": 33, "labelColor": "#1a1a1a", "labelPadding": 26, "tickSize": -9, "tickColor": "#444444", "tickWidth": 1, "domainColor": "#808080", "domainWidth": 1.5, "grid": false, "labelFlush": false, "labelOverlap": false}},
"y": {"field": "y", "type": "quantitative", "scale": {"domain": [0, 360], "nice": false, "zero": false},
"axis": {"orient": "left", "values": [0,50,100,150,200,250,300,350], "title": "θ₃₁ [degrees]", "titleFont": "Liberation Serif", "titleFontSize": 34, "titleFontWeight": "normal", "titleColor": "#111111", "titlePadding": 8, "labelFont": "Liberation Serif", "labelFontSize": 33, "labelColor": "#1a1a1a", "labelPadding": 22, "tickSize": -9, "tickColor": "#444444", "tickWidth": 1, "domainColor": "#808080", "domainWidth": 1.5, "grid": false, "labelFlush": false, "labelOverlap": false}},
"color": {"field": "l", "type": "quantitative",
"scale": {"type": "linear", "domain": [1.1,2.5,4,5.5,7.5,10,12.5,15,17.5,20,22,23.5,25,27,28.5,30], "range": ["#3e26a8","#4330c6","#4641e0","#4753ef","#3d6efa","#2d8bf0","#1ba7dc","#0bb9c2","#2fc3a0","#5fc962","#a6bf3e","#d8b62f","#f9b43d","#fcc63a","#f6e22a","#f9fb14"], "interpolate": "rgb"},
"legend": {"orient": "none", "legendX": 852, "legendY": 0, "direction": "vertical", "gradientLength": 839, "gradientThickness": 17, "title": null, "values": [5,10,15,20,25,30], "labelFont": "Liberation Serif", "labelFontSize": 28, "labelColor": "#1a1a1a", "labelOffset": 8, "gradientStrokeColor": "#262626", "gradientStrokeWidth": 1, "encode": {"labels": {"update": {"baseline": {"value": "middle"}}}}}},
"detail": {"field": "s"},
"order": {"field": "o"}
}
},
{
"data": {"name": "labels"},
"mark": {"type": "text", "font": "Liberation Sans", "fontSize": 19, "color": "#111111", "align": "center", "baseline": "middle"},
"encoding": {
"x": {"field": "x", "type": "quantitative", "axis": null},
"y": {"field": "y", "type": "quantitative", "axis": null},
"text": {"field": "t"},
"angle": {"field": "a", "type": "quantitative", "scale": null}
}
},
{
"data": {"name": "path"},
"mark": {"type": "line", "color": "#000000", "strokeWidth": 10.5, "strokeCap": "round", "strokeJoin": "round", "interpolate": "catmull-rom"},
"encoding": {
"x": {"field": "x", "type": "quantitative", "axis": null},
"y": {"field": "y", "type": "quantitative", "axis": null},
"order": {"field": "o"}
}
},
{
"data": {"name": "pathHeads"},
"mark": {"type": "point", "shape": "triangle-down", "filled": true, "color": "#1e1e1e", "size": 1250, "opacity": 1},
"encoding": {
"x": {"field": "x", "type": "quantitative", "axis": null},
"y": {"field": "y", "type": "quantitative", "axis": null},
"angle": {"field": "a", "type": "quantitative", "scale": null}
}
},
{
"data": {"name": "quiver"},
"mark": {"type": "point", "shape": "M0,0L2,0M1.46,-0.18L2,0L1.46,0.18", "filled": false, "stroke": "#5a5a5a", "strokeWidth": 1, "opacity": 1, "clip": true},
"encoding": {
"x": {"field": "x", "type": "quantitative", "axis": {"orient": "top", "values": [0,50,100,150,200,250,300,350], "labels": false, "title": null, "tickSize": -9, "tickColor": "#444444", "domainColor": "#808080", "domainWidth": 1.5, "grid": false}},
"y": {"field": "y", "type": "quantitative", "axis": {"orient": "right", "values": [0,50,100,150,200,250,300,350], "labels": false, "title": null, "tickSize": -9, "tickColor": "#444444", "domainColor": "#808080", "domainWidth": 1.5, "grid": false}},
"angle": {"field": "a", "type": "quantitative", "scale": null},
"size": {"field": "m", "type": "quantitative", "scale": {"type": "pow", "exponent": 2, "domain": [0, 50], "range": [0, 2025]}, "legend": null}
}
},
{
"data": {"name": "garrow"},
"mark": {"type": "line", "color": "#58bb82", "strokeWidth": 7, "strokeCap": "butt", "interpolate": "catmull-rom"},
"encoding": {
"x": {"field": "x", "type": "quantitative", "axis": null},
"y": {"field": "y", "type": "quantitative", "axis": null},
"order": {"field": "o"}
}
},
{
"data": {"name": "ghead"},
"mark": {"type": "point", "shape": "triangle-down", "filled": true, "color": "#58bb82", "size": 420, "opacity": 1},
"encoding": {
"x": {"field": "x", "type": "quantitative", "axis": null},
"y": {"field": "y", "type": "quantitative", "axis": null},
"angle": {"field": "a", "type": "quantitative", "scale": null}
}
},
{
"data": {"name": "rarrow"},
"mark": {"type": "line", "color": "#f0646c", "strokeWidth": 7, "strokeCap": "butt", "interpolate": "catmull-rom"},
"encoding": {
"x": {"field": "x", "type": "quantitative", "axis": null},
"y": {"field": "y", "type": "quantitative", "axis": null},
"order": {"field": "o"}
}
},
{
"data": {"name": "rhead"},
"mark": {"type": "point", "shape": "triangle-left", "filled": true, "color": "#f0646c", "size": 450, "opacity": 1},
"encoding": {
"x": {"field": "x", "type": "quantitative", "axis": null},
"y": {"field": "y", "type": "quantitative", "axis": null},
"angle": {"field": "a", "type": "quantitative", "scale": null}
}
},
{
"data": {"name": "dots"},
"mark": {"type": "point", "shape": "circle", "filled": true, "size": 400, "stroke": "#404040", "strokeWidth": 3, "opacity": 1},
"encoding": {
"x": {"field": "x", "type": "quantitative", "axis": null},
"y": {"field": "y", "type": "quantitative", "axis": null},
"fill": {"field": "k", "type": "nominal", "scale": {"domain": ["start", "MDP"], "range": ["#3cb44b", "#ed1c24"]}, "legend": null}
}
},
{
"data": {"name": "mdp"},
"mark": {"type": "text", "font": "Liberation Serif", "fontSize": 50, "color": "#111111", "align": "left", "baseline": "alphabetic"},
"encoding": {
"x": {"field": "x", "type": "quantitative", "axis": null},
"y": {"field": "y", "type": "quantitative", "axis": null},
"text": {"field": "t"}
}
},
{
"data": {"name": "theta"},
"mark": {"type": "text", "font": "Liberation Serif", "fontSize": 48, "fontStyle": "italic", "fontWeight": "bold", "color": "#111111", "align": "center", "baseline": "alphabetic"},
"encoding": {
"x": {"field": "x", "type": "quantitative", "axis": null},
"y": {"field": "y", "type": "quantitative", "axis": null},
"text": {"field": "t"}
}
},
{
"data": {"name": "sub0"},
"mark": {"type": "text", "font": "Liberation Serif", "fontSize": 32, "color": "#111111", "align": "center", "baseline": "alphabetic"},
"encoding": {
"x": {"field": "x", "type": "quantitative", "axis": null},
"y": {"field": "y", "type": "quantitative", "axis": null},
"text": {"field": "t"}
}
}
]
}
